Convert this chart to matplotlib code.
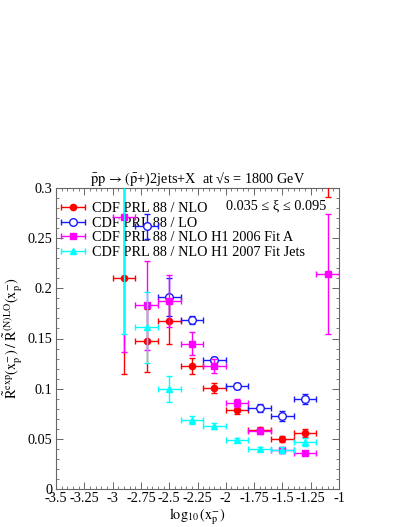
import numpy as np
import matplotlib
matplotlib.use("Agg")
import matplotlib.pyplot as plt
from matplotlib.legend_handler import HandlerErrorbar
from matplotlib.ticker import MultipleLocator, FuncFormatter

plt.rcParams['font.family'] = ['Liberation Serif', 'DejaVu Serif']
plt.rcParams['mathtext.fontset'] = 'stix'
plt.rcParams['axes.unicode_minus'] = False

# bin centres and half-widths (log10 x_p)
x_bins = [-2.9, -2.7, -2.5, -2.3, -2.1, -1.9, -1.7, -1.5, -1.3, -1.1]
x_half = 0.1

# CDF PRL 88 / NLO
red_y   = [0.210, 0.148, 0.167, 0.123, 0.101, 0.079, 0.059, 0.050, 0.056, 0.335]
red_err = [0.095, 0.031, 0.022, 0.008, 0.005, 0.004, 0.003, 0.003, 0.004, 0.044]

# CDF PRL 88 / LO
blue_x   = [-2.7, -2.5, -2.3, -2.1, -1.9, -1.7, -1.5, -1.3]
blue_y   = [0.262, 0.191, 0.168, 0.129, 0.103, 0.081, 0.073, 0.090]
blue_err = [0.0125, 0.019, 0.004, 0.003, 0.003, 0.004, 0.005, 0.005]

# CDF PRL 88 / NLO H1 2006 Fit A
mag_y   = [0.271, 0.183, 0.187, 0.145, 0.123, 0.086, 0.058, 0.039, 0.036, 0.214]
mag_err = [0.134, 0.044, 0.026, 0.011, 0.007, 0.004, 0.003, 0.003, 0.002, 0.060]

# CDF PRL 88 / NLO H1 2007 Fit Jets
cyan_x   = [-2.9, -2.7, -2.5, -2.3, -2.1, -1.9, -1.7, -1.5, -1.3]
cyan_y   = [0.360, 0.161, 0.100, 0.069, 0.063, 0.049, 0.040, 0.039, 0.047]
cyan_err = [0.206, 0.035, 0.013, 0.004, 0.003, 0.002, 0.002, 0.003, 0.004]

labels = ['CDF PRL 88 / NLO', 'CDF PRL 88 / LO',
          'CDF PRL 88 / NLO H1 2006 Fit A', 'CDF PRL 88 / NLO H1 2007 Fit Jets']

fig = plt.figure(figsize=(4.07, 5.27), dpi=100)
ax = fig.add_axes([56/407, 1-489/527, (339-56)/407, (489-188)/527])

fs = 10.3
common = dict(elinewidth=1.0, capsize=2.5, capthick=1.0, linestyle='none')

series = [
    (x_bins, red_y, red_err, 'o', '#ff0000', '#ff0000', 4.5),
    (blue_x, blue_y, blue_err, 'o', '#1a1aff', 'white', 5.5),
    (x_bins, mag_y, mag_err, 's', '#ff00ff', '#ff00ff', 4.5),
    (cyan_x, cyan_y, cyan_err, '^', '#00ffff', '#00ffff', 4.5),
]
handles = []
for i, (xs, ys, es, mk, col, fc, ms) in enumerate(series):
    ax.errorbar(xs, ys, xerr=x_half, yerr=es, fmt=mk, color=col, ecolor=col,
                mfc=fc, mec=col, ms=ms, mew=1.0, zorder=3 + i, **common)
    h = ax.errorbar([np.nan], [np.nan], xerr=[0.1], fmt=mk, color=col, ecolor=col,
                    mfc=fc, mec=col, ms=ms, mew=1.0, **common)
    handles.append(h)

leg = ax.legend(handles, labels, loc='upper left', bbox_to_anchor=(0.005, 0.962),
                frameon=False, fontsize=fs, handlelength=1.75, handletextpad=0.45,
                labelspacing=0.1, borderpad=0.2, borderaxespad=0.0,
                handler_map={type(handles[0]): HandlerErrorbar(xerr_size=0.82)})
leg.set_zorder(2)

ax.text(-1.995, 0.2825, '0.035 ≤ ξ ≤ 0.095', fontsize=fs, va='center', ha='left')

ax.set_xlim(-3.5, -1.0)
ax.set_ylim(0, 0.3)
ax.xaxis.set_major_locator(MultipleLocator(0.25))
ax.xaxis.set_minor_locator(MultipleLocator(0.05))
ax.yaxis.set_major_locator(MultipleLocator(0.05))
ax.yaxis.set_minor_locator(MultipleLocator(0.01))
fmt = FuncFormatter(lambda v, p: ('%g' % round(v, 4)))
ax.xaxis.set_major_formatter(fmt)
ax.yaxis.set_major_formatter(fmt)
ax.tick_params(which='both', direction='in', top=True, right=True,
               labelsize=fs, color='#666666')
ax.tick_params(which='major', length=5, width=0.7, pad=2.5)
ax.tick_params(which='minor', length=2.5, width=0.6)
for s in ax.spines.values():
    s.set_color('#666666')
    s.set_linewidth(0.8)

ax.set_xlabel(r'$\log_{10}(\mathrm{x}_\mathrm{p}^{-})$', fontsize=fs, labelpad=1)
ax.set_ylabel(r'$\tilde{\mathrm{R}}^{\mathrm{exp}}(\mathrm{x}_\mathrm{p}^{-})\;/\;'
              r'\tilde{\mathrm{R}}^{\mathrm{(N)LO}}(\mathrm{x}_\mathrm{p}^{-})$',
              fontsize=fs, labelpad=2)
ax.set_title(r'$\bar{\mathrm{p}}\mathrm{p}\,\rightarrow\,(\bar{\mathrm{p}}$+)2jets+X  at √s = 1800 GeV',
             fontsize=fs, pad=4)

fig.savefig('out.png', dpi=100)
